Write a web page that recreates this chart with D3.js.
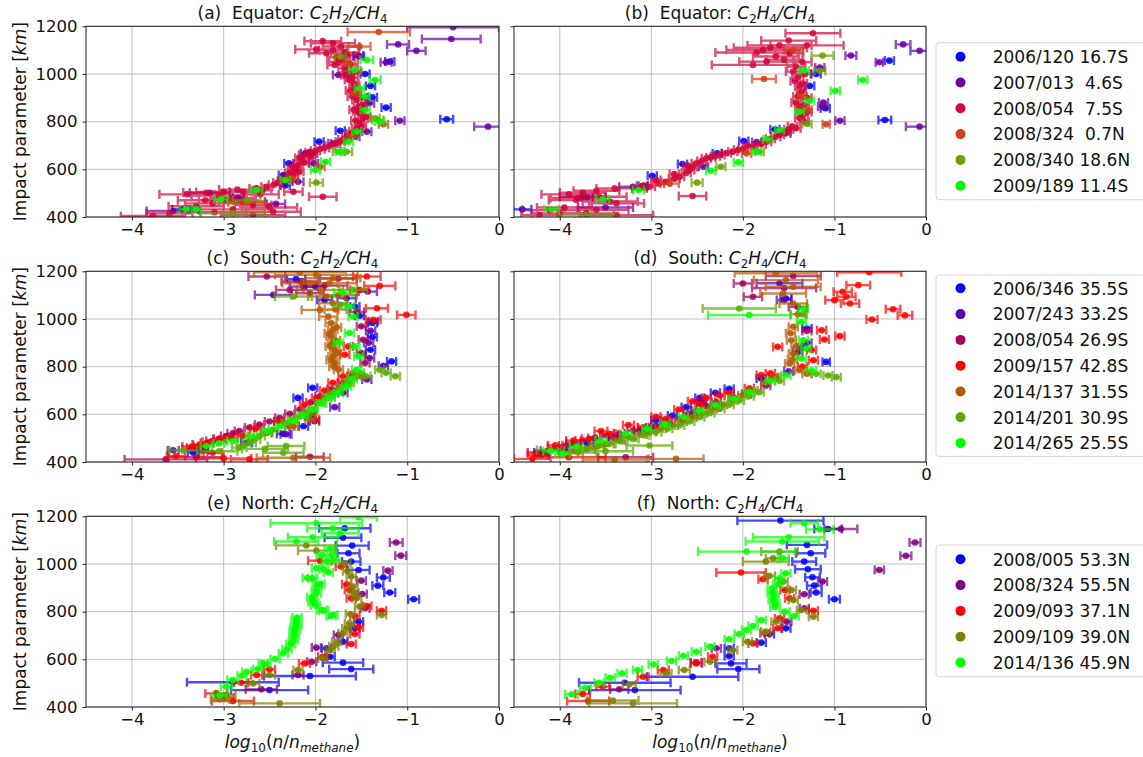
<!DOCTYPE html>
<html>
<head>
<meta charset="utf-8">
<script src="https://cdn.jsdelivr.net/npm/d3@7"></script>
<style>
  body { margin: 0; background: #fff; }
  svg { display: block; font-family: "DejaVu Sans", sans-serif; }
</style>
</head>
<body>
<svg id="chart" width="1143" height="757"></svg>
<script>
// Axis ticks
const xTicks = [-4, -3, -2, -1, 0];
const yTicks = [400, 600, 800, 1000, 1200];

// Legend labels and colours
const eqLabels = ['2006/120 16.7S', '2007/013  4.6S', '2008/054  7.5S', '2008/324  0.7N', '2008/340 18.6N', '2009/189 11.4S'];
const eqColors = ['#0000ff', '#6a00a6', '#d2063c', '#d24010', '#6e9e00', '#00f800'];
const soLabels = ['2006/346 35.5S', '2007/243 33.2S', '2008/054 26.9S', '2009/157 42.8S', '2014/137 31.5S', '2014/201 30.9S', '2014/265 25.5S'];
const soColors = ['#0000ff', '#5a00b4', '#a8005a', '#ff0000', '#b45a00', '#5aaa00', '#00ff00'];
const noLabels = ['2008/005 53.3N', '2008/324 55.5N', '2009/093 37.1N', '2009/109 39.0N', '2014/136 45.9N'];
const noColors = ['#0000ff', '#800080', '#ff0000', '#808000', '#00ff00'];

// Each point: [log10 ratio, impact parameter km, error]
// (a) Equator C2H2/CH4
const a_2006_120 = [[-1.19,1052,0.05],[-1.53,1077,0.05],[-1.46,1000,0.05],[-1.40,950,0.05],[-1.38,902,0.05],[-1.23,859,0.05],[-0.57,810,0.07],[-1.73,762,0.05],[-1.96,716,0.05],[-2.11,667,0.05],[-2.29,625,0.05],[-2.35,576,0.05],[-2.33,532,0.05],[-2.84,481,0.06],[-3.46,432,0.1],[-3.34,432,0.06]];
const a_2007_013 = [[-0.50,1196,0.5],[-0.52,1147,0.32],[-1.10,1124,0.12],[-0.90,1097,0.1],[-1.23,1049,0.06],[-1.53,1073,0.06],[-1.75,996,0.06],[-1.41,877,0.05],[-1.08,804,0.05],[-0.12,779,0.15],[-1.44,758,0.05],[-1.57,737,0.05],[-1.81,709,0.05],[-2.03,667,0.05],[-2.02,625,0.05],[-2.19,548,0.06],[-3.15,502,0.22],[-2.43,455,0.1],[-3.55,425,0.29]];
const a_2008_054 = [[-1.92,1138,0.2],[-1.81,1129,0.24],[-1.99,1103,0.23],[-1.81,1100,0.15],[-1.88,1087,0.19],[-1.77,1070,0.1],[-1.70,1059,0.08],[-1.79,1038,0.08],[-1.68,1024,0.07],[-1.64,1003,0.06],[-1.63,975,0.05],[-1.57,947,0.05],[-1.55,919,0.05],[-1.55,891,0.05],[-1.53,863,0.05],[-1.52,835,0.05],[-1.48,814,0.05],[-1.52,793,0.05],[-1.55,772,0.05],[-1.61,751,0.05],[-1.66,737,0.05],[-1.73,716,0.05],[-1.84,699,0.05],[-1.95,685,0.05],[-2.06,671,0.05],[-2.13,660,0.05],[-2.15,639,0.05],[-2.19,618,0.05],[-2.21,597,0.05],[-2.24,576,0.05],[-2.32,562,0.05],[-2.41,544,0.05],[-2.53,527,0.06],[-2.64,520,0.08],[-2.79,506,0.15],[-3.19,502,0.25],[-2.24,506,0.1],[-1.92,485,0.15],[-2.90,479,0.25],[-2.97,471,0.3],[-3.12,457,0.3],[-2.68,450,0.2],[-2.90,432,0.35],[-2.46,422,0.3],[-3.59,415,0.25],[-3.77,404,0.35],[-2.68,408,0.35],[-1.72,1115,0.2],[-1.65,1080,0.12],[-1.75,1050,0.1],[-1.60,985,0.06],[-1.58,960,0.05],[-1.62,930,0.05],[-1.50,900,0.05],[-1.58,850,0.05],[-1.45,820,0.05],[-1.50,780,0.05],[-1.70,725,0.05],[-1.90,690,0.05],[-2.05,650,0.05],[-2.25,610,0.05],[-2.18,590,0.05],[-2.30,555,0.05],[-2.45,535,0.06],[-2.85,515,0.2],[-3.05,490,0.3],[-2.80,465,0.25],[-3.30,445,0.3],[-1.68,1090,0.15],[-1.62,1040,0.08],[-1.56,1010,0.06],[-1.66,995,0.06],[-1.60,905,0.05],[-1.49,870,0.05],[-1.54,845,0.05],[-1.56,805,0.05],[-1.58,760,0.05],[-1.78,708,0.05],[-2.00,678,0.05],[-2.17,648,0.05],[-2.12,628,0.05],[-2.22,604,0.05],[-2.28,585,0.05],[-2.36,552,0.05],[-2.58,512,0.1],[-3.00,505,0.3],[-3.40,495,0.3],[-2.60,495,0.2],[-3.20,470,0.3],[-2.50,440,0.3],[-3.10,420,0.35]];
const a_2008_324 = [[-1.31,1176,0.34],[-1.52,1115,0.12],[-1.63,1045,0.06],[-1.57,919,0.05],[-1.26,789,0.05],[-1.60,740,0.05],[-1.95,611,0.05],[-2.25,560,0.06],[-2.75,460,0.2]];
const a_2008_340 = [[-1.73,1073,0.06],[-1.32,807,0.06],[-1.35,814,0.05],[-1.66,674,0.06],[-1.75,674,0.06],[-1.99,544,0.07],[-2.90,415,0.35],[-2.75,470,0.15]];
const a_2009_189 = [[-1.44,1059,0.07],[-1.57,1017,0.06],[-1.35,975,0.06],[-1.52,940,0.05],[-1.46,905,0.05],[-1.46,849,0.05],[-1.30,800,0.05],[-1.55,758,0.05],[-1.64,716,0.05],[-1.73,674,0.05],[-1.89,632,0.05],[-2.00,597,0.05],[-2.33,555,0.05],[-2.64,513,0.06],[-3.03,474,0.07],[-3.41,432,0.07],[-3.30,432,0.05]];

// (b) Equator C2H4/CH4
const b_2006_120 = [[-1.20,1000,0.05],[-1.27,950,0.05],[-1.10,856,0.05],[-0.45,807,0.07],[-0.40,1056,0.05],[-1.65,768,0.05],[-1.99,719,0.05],[-2.28,667,0.05],[-2.66,622,0.05],[-2.99,573,0.05],[-3.09,531,0.05],[-3.70,483,0.06],[-4.41,432,0.1]];
const b_2007_013 = [[-0.25,1124,0.08],[-0.07,1097,0.1],[-0.82,1077,0.06],[-0.51,1049,0.04],[-1.16,1027,0.05],[-1.13,863,0.05],[-1.12,880,0.05],[-0.94,804,0.05],[-0.07,779,0.15],[-1.53,751,0.05],[-1.85,714,0.05],[-2.43,611,0.05],[-3.20,527,0.15],[-3.75,485,0.25],[-3.50,440,0.3]];
const b_2008_054 = [[-1.235,1171,0.3],[-1.78,1101,0.4],[-1.85,1090,0.45],[-1.74,1052,0.3],[-1.89,1038,0.45],[-1.64,1073,0.25],[-1.49,1087,0.15],[-1.42,1031,0.1],[-1.40,989,0.06],[-1.38,947,0.05],[-1.40,905,0.05],[-1.38,863,0.05],[-1.34,828,0.05],[-1.33,800,0.05],[-1.42,772,0.05],[-1.53,758,0.05],[-1.64,737,0.05],[-1.74,716,0.05],[-1.89,695,0.05],[-2.11,674,0.05],[-2.25,660,0.05],[-2.40,646,0.05],[-2.51,625,0.05],[-2.58,597,0.05],[-2.69,569,0.05],[-2.84,548,0.05],[-3.02,527,0.06],[-3.13,520,0.08],[-2.55,488,0.15],[-3.75,502,0.25],[-3.57,485,0.3],[-3.82,471,0.3],[-3.38,457,0.3],[-4.11,429,0.3],[-3.71,415,0.3],[-3.38,408,0.4],[-4.22,408,0.2],[-1.60,1120,0.35],[-1.70,1110,0.4],[-1.55,1060,0.2],[-1.45,1010,0.08],[-1.43,970,0.05],[-1.36,925,0.05],[-1.42,880,0.05],[-1.37,845,0.05],[-1.46,780,0.05],[-1.60,745,0.05],[-1.80,705,0.05],[-2.00,685,0.05],[-2.18,668,0.05],[-2.35,650,0.05],[-2.45,635,0.05],[-2.55,610,0.05],[-2.62,585,0.05],[-2.75,560,0.06],[-2.92,540,0.06],[-3.60,510,0.25],[-3.90,495,0.3],[-3.45,465,0.3],[-3.95,440,0.3],[-1.30,1120,0.4],[-1.50,1140,0.3],[-1.35,1050,0.1],[-1.32,1000,0.06],[-1.35,960,0.05],[-1.30,900,0.05],[-1.33,870,0.05],[-1.30,840,0.05],[-1.38,815,0.05],[-1.50,768,0.05],[-1.70,728,0.05],[-1.95,700,0.05],[-2.05,682,0.05],[-2.30,655,0.05],[-2.60,615,0.05],[-2.75,580,0.05],[-2.95,555,0.05],[-3.10,530,0.06],[-3.40,520,0.2],[-3.80,480,0.3],[-3.60,430,0.35],[-4.00,415,0.3]];
const b_2008_324 = [[-1.77,979,0.13],[-1.09,789,0.04],[-1.96,667,0.05],[-1.35,905,0.05],[-1.30,850,0.05],[-2.80,540,0.1],[-1.45,1100,0.1]];
const b_2008_340 = [[-1.13,1077,0.12],[-1.16,1013,0.06],[-2.24,611,0.05],[-2.50,544,0.06],[-1.82,674,0.05],[-3.71,408,0.3],[-1.30,790,0.05]];
const b_2009_189 = [[-1.33,1014,0.05],[-0.69,975,0.05],[-0.99,929,0.05],[-1.27,887,0.05],[-1.38,842,0.05],[-1.60,765,0.05],[-1.73,726,0.05],[-1.85,674,0.05],[-2.05,629,0.05],[-2.35,594,0.05],[-3.14,513,0.06],[-3.53,474,0.07],[-4.09,432,0.08]];

// (c) South C2H2/CH4
const c_2006_346 = [[-2.21,1167,0.1],[-2.00,1136,0.1],[-1.90,1080,0.08],[-1.57,1052,0.05],[-1.52,1013,0.05],[-1.38,983,0.05],[-1.38,924,0.05],[-1.40,871,0.05],[-1.17,822,0.05],[-2.03,711,0.05],[-2.19,669,0.05],[-2.06,592,0.05],[-2.13,550,0.05],[-2.35,518,0.07],[-2.75,481,0.06],[-3.23,449,0.06],[-3.33,439,0.06]];
const c_2007_243 = [[-2.46,1101,0.2],[-2.13,1136,0.15],[-1.66,1087,0.1],[-1.43,1115,0.1],[-1.37,990,0.05],[-1.41,836,0.05],[-1.26,804,0.05],[-1.44,746,0.05],[-1.70,690,0.05],[-1.79,630,0.05],[-2.01,571,0.05],[-2.32,516,0.06],[-3.55,449,0.06],[-1.40,950,0.05],[-1.42,900,0.05]];
const c_2008_054 = [[-2.53,1178,0.2],[-2.17,1157,0.2],[-2.28,1122,0.15],[-2.06,1108,0.15],[-1.90,1140,0.25],[-1.75,1170,0.2],[-1.50,969,0.05],[-1.48,913,0.05],[-1.50,857,0.05],[-1.46,815,0.05],[-1.55,1030,0.08],[-1.70,732,0.05],[-1.95,676,0.05],[-2.17,620,0.05],[-2.39,585,0.05],[-2.61,557,0.05],[-2.83,530,0.05],[-2.97,509,0.06],[-3.12,488,0.07],[-3.25,470,0.08],[-3.63,411,0.45],[-2.06,422,0.15],[-3.35,455,0.1],[-1.60,760,0.05],[-1.82,705,0.05],[-2.05,650,0.05],[-2.28,602,0.05],[-2.50,570,0.05],[-2.72,545,0.05],[-2.90,520,0.06],[-3.05,498,0.06],[-3.18,480,0.07],[-3.30,460,0.1],[-3.30,420,0.3]];
const c_2009_157 = [[-1.30,1139,0.17],[-1.44,1178,0.15],[-1.52,1122,0.1],[-1.01,1017,0.1],[-1.33,1045,0.12],[-1.37,997,0.08],[-1.64,885,0.05],[-1.68,850,0.05],[-1.81,732,0.05],[-1.99,669,0.05],[-2.01,578,0.05],[-2.28,550,0.05],[-2.53,523,0.06],[-2.79,509,0.06],[-3.04,495,0.07],[-3.26,474,0.08],[-3.52,425,0.1],[-3.12,439,0.1],[-2.72,411,0.2],[-1.70,760,0.05],[-1.90,700,0.05],[-2.12,640,0.05],[-2.40,570,0.05],[-2.65,540,0.06],[-2.92,502,0.07],[-3.15,485,0.08],[-3.35,465,0.1],[-3.00,415,0.3]];
const c_2014_137 = [[-2.17,1196,0.5],[-1.99,1185,0.45],[-1.81,1171,0.3],[-2.06,1150,0.3],[-1.95,1122,0.25],[-1.88,1094,0.2],[-1.81,1066,0.15],[-1.95,1038,0.2],[-1.86,1010,0.1],[-1.83,983,0.06],[-1.81,955,0.05],[-1.83,927,0.05],[-1.81,899,0.05],[-1.79,871,0.05],[-1.81,843,0.05],[-1.79,815,0.05],[-1.75,787,0.05],[-1.59,774,0.05],[-1.52,760,0.05],[-1.66,732,0.05],[-1.84,676,0.05],[-2.04,606,0.05],[-2.24,550,0.05],[-2.06,578,0.05],[-2.24,418,0.4],[-1.85,1150,0.3],[-1.75,1100,0.2],[-1.78,1040,0.12],[-1.77,965,0.05],[-1.85,940,0.05],[-1.78,910,0.05],[-1.84,885,0.05],[-1.77,857,0.05],[-1.83,828,0.05],[-1.80,800,0.05]];
const c_2014_201 = [[-2.24,1094,0.2],[-1.59,1122,0.15],[-1.73,1059,0.08],[-1.30,787,0.05],[-1.23,774,0.05],[-1.13,760,0.05],[-1.52,774,0.05],[-1.63,732,0.05],[-1.81,690,0.05],[-1.95,648,0.05],[-2.03,620,0.05],[-2.17,592,0.05],[-2.32,564,0.05],[-2.46,536,0.05],[-2.61,509,0.06],[-2.72,481,0.07],[-2.83,460,0.08],[-2.32,467,0.2],[-2.35,439,0.22],[-3.44,449,0.15],[-1.45,760,0.05],[-1.72,712,0.05],[-1.88,668,0.05],[-2.10,606,0.05],[-2.25,578,0.05],[-2.54,522,0.06],[-2.66,495,0.06],[-2.78,470,0.08],[-2.55,455,0.25],[-3.05,445,0.2]];
const c_2014_265 = [[-1.63,1052,0.05],[-1.59,1010,0.05],[-1.63,941,0.05],[-1.57,885,0.05],[-1.53,843,0.05],[-1.55,787,0.05],[-1.66,718,0.05],[-1.84,669,0.05],[-2.03,620,0.05],[-2.24,571,0.05],[-2.53,530,0.05],[-2.90,488,0.06],[-3.19,467,0.06],[-1.70,1110,0.1],[-1.75,900,0.05],[-1.60,750,0.05],[-1.75,690,0.05],[-1.93,645,0.05],[-2.13,595,0.05],[-2.38,550,0.05],[-2.70,508,0.06],[-3.05,478,0.06]];

// (d) South C2H4/CH4
const d_2006_346 = [[-1.53,1086,0.06],[-1.09,820,0.04],[-2.15,707,0.05],[-2.47,669,0.05],[-2.62,630,0.05],[-2.77,595,0.05],[-3.13,532,0.06],[-3.95,451,0.06],[-1.30,960,0.05],[-1.35,880,0.05],[-4.20,440,0.08],[-1.80,750,0.05],[-2.30,690,0.05],[-2.45,650,0.05],[-2.95,575,0.05],[-3.40,505,0.06],[-3.70,478,0.07]];
const d_2007_243 = [[-1.55,1080,0.08],[-1.30,900,0.05],[-1.40,860,0.05],[-1.50,780,0.05],[-2.30,630,0.05],[-2.55,600,0.05],[-3.00,545,0.06],[-3.40,500,0.07],[-4.20,430,0.08],[-1.60,1150,0.25]];
const d_2008_054 = [[-2.00,1149,0.1],[-1.89,1093,0.1],[-1.55,1130,0.35],[-1.45,1180,0.3],[-1.40,1050,0.1],[-1.30,950,0.05],[-1.96,686,0.05],[-2.29,651,0.05],[-2.51,616,0.05],[-2.69,581,0.05],[-2.95,553,0.05],[-3.20,532,0.06],[-3.49,511,0.07],[-3.75,490,0.08],[-3.93,469,0.08],[-4.11,448,0.1],[-3.28,420,0.3],[-1.75,720,0.05],[-2.10,670,0.05],[-2.40,635,0.05],[-2.60,600,0.05],[-2.82,567,0.05],[-3.08,542,0.06],[-3.35,520,0.06],[-3.62,500,0.07],[-3.85,480,0.08],[-4.05,460,0.08],[-4.25,440,0.1]];
const d_2009_157 = [[-0.62,1196,0.35],[-0.74,1142,0.13],[-0.91,1114,0.1],[-0.87,1093,0.1],[-1.00,1079,0.1],[-0.83,1065,0.1],[-0.36,1041,0.08],[-0.23,1015,0.08],[-0.59,998,0.06],[-1.14,953,0.05],[-0.94,928,0.05],[-1.11,914,0.05],[-1.62,883,0.05],[-1.23,827,0.05],[-1.67,756,0.05],[-2.25,679,0.05],[-2.40,669,0.05],[-2.47,644,0.05],[-2.84,581,0.05],[-3.09,546,0.06],[-3.46,518,0.07],[-3.68,497,0.08],[-4.30,413,0.2],[-1.80,765,0.05],[-1.25,870,0.05],[-1.35,800,0.05],[-1.70,772,0.05],[-1.93,709,0.05],[-2.15,690,0.05],[-2.55,655,0.05],[-2.70,620,0.05],[-2.95,590,0.05],[-3.25,555,0.06],[-3.55,530,0.07],[-3.85,490,0.08],[-4.05,470,0.08],[-3.90,420,0.4],[-4.25,430,0.1]];
const d_2014_137 = [[-1.64,1192,0.45],[-1.53,1163,0.35],[-1.45,1135,0.3],[-1.56,1107,0.25],[-1.45,1065,0.15],[-1.45,967,0.05],[-1.47,911,0.05],[-1.45,855,0.05],[-1.49,813,0.05],[-1.38,785,0.05],[-1.64,756,0.05],[-1.89,700,0.05],[-2.11,658,0.05],[-2.33,623,0.05],[-2.55,588,0.05],[-2.77,553,0.06],[-3.02,525,0.07],[-3.24,504,0.07],[-3.49,476,0.08],[-3.71,455,0.1],[-2.73,413,0.3],[-1.40,1020,0.08],[-1.48,940,0.05],[-1.42,885,0.05],[-1.46,830,0.05],[-1.30,770,0.05],[-1.75,735,0.05],[-2.00,680,0.05],[-2.22,640,0.05],[-2.44,605,0.05],[-2.66,570,0.05],[-2.90,540,0.06],[-3.12,515,0.07],[-3.36,490,0.07],[-3.60,465,0.08],[-3.85,445,0.1],[-3.40,410,0.35]];
const d_2014_201 = [[-2.04,1044,0.4],[-0.98,756,0.05],[-1.07,763,0.05],[-1.82,693,0.05],[-2.04,658,0.05],[-2.25,623,0.05],[-2.47,588,0.05],[-2.69,553,0.05],[-2.95,525,0.06],[-3.20,497,0.06],[-3.46,476,0.07],[-3.71,455,0.08],[-4.10,450,0.15],[-3.02,469,0.25],[-1.35,1020,0.05],[-1.20,770,0.05],[-1.60,740,0.05],[-1.93,676,0.05],[-2.15,640,0.05],[-2.36,605,0.05],[-2.58,570,0.05],[-2.82,540,0.05],[-3.08,512,0.06],[-3.33,486,0.07],[-3.58,466,0.08],[-3.50,445,0.3],[-3.80,440,0.2]];
const d_2014_265 = [[-1.93,1016,0.45],[-1.34,1044,0.05],[-1.36,988,0.05],[-1.34,911,0.05],[-1.31,876,0.05],[-1.36,834,0.05],[-1.25,785,0.05],[-1.53,764,0.05],[-1.93,693,0.05],[-2.30,640,0.05],[-2.65,590,0.05],[-3.28,518,0.06],[-3.82,465,0.07],[-3.97,434,0.08],[-1.70,740,0.05],[-2.10,665,0.05],[-2.48,615,0.05],[-2.85,560,0.05],[-3.05,540,0.05],[-3.55,490,0.06],[-4.10,445,0.08]];

// (e) North C2H2/CH4
const e_2008_005 = [[-1.68,1150,0.28],[-1.70,1110,0.2],[-1.60,1077,0.18],[-1.64,1045,0.12],[-1.61,1010,0.1],[-1.53,975,0.12],[-1.26,943,0.07],[-1.32,909,0.06],[-1.19,880,0.06],[-0.93,852,0.06],[-1.53,758,0.05],[-1.57,730,0.05],[-1.70,674,0.05],[-1.88,646,0.05],[-1.84,611,0.05],[-1.70,586,0.22],[-1.61,559,0.24],[-2.06,530,0.5],[-2.90,504,0.5],[-2.50,471,0.42]];
const e_2008_324 = [[-1.12,1090,0.07],[-1.07,1035,0.06],[-1.21,972,0.05],[-1.50,930,0.05],[-1.49,874,0.05],[-1.46,814,0.05],[-1.75,702,0.05],[-1.99,649,0.05],[-2.04,590,0.05],[-2.19,534,0.06],[-2.59,474,0.17]];
const e_2009_093 = [[-1.95,1014,0.13],[-1.72,989,0.06],[-1.66,915,0.05],[-1.63,891,0.05],[-1.61,856,0.05],[-1.44,824,0.05],[-1.28,804,0.05],[-1.57,782,0.05],[-1.53,734,0.05],[-1.57,706,0.05],[-1.61,664,0.05],[-1.92,611,0.05],[-2.12,583,0.06],[-2.50,558,0.06],[-2.64,534,0.06],[-2.81,502,0.08],[-3.08,457,0.12],[-2.90,425,0.23],[-2.99,440,0.1]];
const e_2009_109 = [[-2.10,1078,0.33],[-1.99,1056,0.2],[-1.68,1003,0.06],[-1.61,947,0.05],[-1.59,905,0.05],[-1.55,856,0.05],[-1.52,821,0.05],[-1.28,786,0.05],[-1.63,751,0.05],[-1.70,709,0.05],[-1.77,674,0.05],[-1.84,639,0.05],[-1.92,604,0.05],[-2.19,555,0.05],[-2.50,534,0.06],[-2.68,499,0.07],[-2.97,450,0.1],[-2.39,415,0.44],[-3.04,432,0.1],[-1.65,970,0.05],[-1.58,880,0.05],[-1.62,790,0.05],[-1.66,730,0.05],[-1.80,655,0.05]];
const e_2014_136 = [[-1.53,1196,0.2],[-1.99,1171,0.5],[-1.81,1150,0.28],[-1.73,1129,0.2],[-2.03,1112,0.27],[-2.21,1094,0.24],[-1.84,1066,0.06],[-1.82,1038,0.05],[-1.88,1010,0.05],[-1.99,982,0.05],[-2.03,940,0.05],[-1.98,912,0.05],[-1.99,877,0.05],[-2.03,842,0.05],[-1.93,807,0.05],[-1.83,782,0.05],[-2.21,765,0.05],[-2.23,723,0.05],[-2.24,681,0.05],[-2.35,625,0.05],[-2.57,583,0.05],[-2.75,548,0.05],[-2.90,513,0.06],[-2.97,485,0.06],[-3.04,450,0.07],[-2.09,941,0.05],[-1.95,916,0.05],[-1.99,888,0.05],[-2.04,860,0.05],[-2.02,840,0.05],[-2.00,826,0.05],[-1.91,805,0.05],[-1.81,786,0.05],[-2.20,775,0.05],[-2.21,755,0.05],[-2.20,745,0.05],[-2.22,735,0.05],[-2.22,727,0.05],[-2.23,712,0.05],[-2.23,699,0.05],[-2.27,664,0.05],[-2.31,643,0.05],[-2.44,601,0.05],[-2.54,580,0.05],[-2.63,559,0.05],[-2.80,531,0.05],[-1.91,980,0.05],[-1.86,965,0.05],[-1.93,1037,0.05],[-1.80,1016,0.05]];

// (f) North C2H4/CH4
const f_2008_005 = [[-1.59,1182,0.47],[-1.07,1147,0.15],[-1.30,1080,0.22],[-1.26,1045,0.16],[-1.33,1010,0.13],[-1.29,978,0.14],[-1.24,944,0.08],[-1.22,909,0.08],[-1.20,880,0.06],[-1.00,852,0.06],[-1.53,730,0.05],[-1.71,706,0.05],[-1.80,670,0.05],[-2.15,646,0.05],[-2.15,614,0.05],[-2.13,583,0.17],[-2.05,559,0.23],[-2.55,527,0.5],[-3.29,502,0.5],[-3.18,471,0.5]];
const f_2008_324 = [[-0.93,1147,0.18],[-0.12,1090,0.06],[-0.22,1034,0.06],[-0.51,975,0.05],[-1.13,926,0.05],[-1.33,873,0.05],[-1.33,814,0.05],[-1.52,758,0.05],[-2.29,646,0.05],[-2.51,587,0.06],[-3.35,474,0.1]];
const f_2009_093 = [[-2.02,964,0.27],[-1.78,936,0.05],[-1.54,891,0.05],[-1.49,856,0.05],[-1.23,804,0.05],[-1.60,772,0.05],[-1.62,730,0.05],[-1.76,709,0.05],[-1.89,667,0.05],[-2.33,611,0.05],[-2.51,583,0.06],[-2.87,555,0.06],[-3.09,527,0.06],[-3.53,485,0.07],[-3.75,455,0.08],[-3.69,425,0.23]];
const f_2009_109 = [[-1.60,1052,0.2],[-1.67,1024,0.08],[-1.75,1010,0.25],[-1.71,950,0.06],[-1.56,926,0.05],[-1.47,891,0.05],[-1.45,849,0.05],[-1.36,807,0.05],[-1.23,779,0.05],[-1.64,758,0.05],[-1.75,716,0.05],[-1.95,674,0.05],[-2.11,639,0.05],[-2.36,590,0.06],[-2.64,555,0.06],[-2.84,541,0.06],[-3.24,495,0.07],[-3.42,427,0.28],[-3.20,415,0.48]];
const f_2014_136 = [[-1.33,1171,0.15],[-1.16,1145,0.15],[-1.50,1112,0.39],[-1.57,1094,0.4],[-1.96,1052,0.53],[-1.56,1024,0.06],[-1.53,961,0.05],[-1.68,898,0.05],[-1.66,866,0.05],[-1.65,835,0.05],[-1.54,800,0.05],[-1.44,782,0.05],[-1.80,765,0.05],[-1.89,740,0.05],[-1.96,723,0.05],[-2.04,706,0.05],[-2.15,684,0.05],[-2.36,653,0.05],[-2.51,632,0.05],[-2.65,615,0.05],[-2.78,593,0.05],[-2.98,579,0.05],[-3.15,555,0.05],[-3.32,541,0.05],[-3.45,523,0.05],[-3.57,502,0.05],[-3.72,481,0.06],[-3.87,453,0.07],[-1.68,880,0.05],[-1.67,850,0.05],[-1.65,820,0.05],[-1.62,915,0.05],[-1.60,940,0.05]];

// Panel layout, built from the arrays above
const cols = [{ left: 86, right: 499 }, { left: 514, right: 926 }];
const rows = [{ top: 26.3, bottom: 217 }, { top: 271.3, bottom: 462 }, { top: 516.3, bottom: 707 }];

const panels = [
    { col: 0, row: 0, title: '(a)  Equator: ', formula: 'C2H2/CH4', colors: eqColors,
      series: [a_2006_120, a_2007_013, a_2008_054, a_2008_324, a_2008_340, a_2009_189] },
    { col: 1, row: 0, title: '(b)  Equator: ', formula: 'C2H4/CH4', colors: eqColors,
      series: [b_2006_120, b_2007_013, b_2008_054, b_2008_324, b_2008_340, b_2009_189] },
    { col: 0, row: 1, title: '(c)  South: ', formula: 'C2H2/CH4', colors: soColors,
      series: [c_2006_346, c_2007_243, c_2008_054, c_2009_157, c_2014_137, c_2014_201, c_2014_265] },
    { col: 1, row: 1, title: '(d)  South: ', formula: 'C2H4/CH4', colors: soColors,
      series: [d_2006_346, d_2007_243, d_2008_054, d_2009_157, d_2014_137, d_2014_201, d_2014_265] },
    { col: 0, row: 2, title: '(e)  North: ', formula: 'C2H2/CH4', colors: noColors,
      series: [e_2008_005, e_2008_324, e_2009_093, e_2009_109, e_2014_136] },
    { col: 1, row: 2, title: '(f)  North: ', formula: 'C2H4/CH4', colors: noColors,
      series: [f_2008_005, f_2008_324, f_2009_093, f_2009_109, f_2014_136] },
];

const legends = [
    { labels: eqLabels, colors: eqColors, top: 42.7, first: 56.7 },
    { labels: soLabels, colors: soColors, top: 275, first: 288.3 },
    { labels: noLabels, colors: noColors, top: 545, first: 559.3 },
];

const svg = d3.select('#chart');
const fmtMinus = (d) => (d < 0 ? '\u2212' + Math.abs(d) : String(d));

// Write chemical formula: letters italic, digits as subscripts
function appendFormula(text, formula, size) {
    let inSub = false;
    for (const ch of formula) {
        const isSub = /\d/.test(ch);
        const ts = text.append('tspan').text(ch)
            .attr('font-size', isSub ? size * 0.7 : size)
            .attr('font-style', isSub ? 'normal' : 'italic');
        if (isSub && !inSub) ts.attr('dy', size * 0.22);
        if (!isSub && inSub) ts.attr('dy', -size * 0.22);
        inSub = isSub;
    }
}

panels.forEach((p, i) => {
    const c = cols[p.col];
    const r = rows[p.row];
    const x = d3.scaleLinear().domain([-4.5, 0]).range([c.left, c.right]);
    const y = d3.scaleLinear().domain([400, 1200]).range([r.bottom, r.top]);
    const g = svg.append('g');

    // Gridlines
    g.append('g').selectAll('line').data(xTicks).join('line')
        .attr('x1', (d) => x(d)).attr('x2', (d) => x(d))
        .attr('y1', r.top).attr('y2', r.bottom)
        .attr('stroke', '#b0b0b0').attr('stroke-width', 0.8);
    g.append('g').selectAll('line').data(yTicks).join('line')
        .attr('x1', c.left).attr('x2', c.right)
        .attr('y1', (d) => y(d)).attr('y2', (d) => y(d))
        .attr('stroke', '#b0b0b0').attr('stroke-width', 0.8);

    // Clip the marks to the axes box
    const clipId = 'clip-' + i;
    svg.append('clipPath').attr('id', clipId).append('rect')
        .attr('x', c.left).attr('y', r.top)
        .attr('width', c.right - c.left).attr('height', r.bottom - r.top);
    const plot = g.append('g').attr('clip-path', `url(#${clipId})`);

    // Error bars and markers, series drawn in legend order
    p.series.forEach((data, k) => {
        const color = p.colors[k];
        const s = plot.append('g');
        const bars = s.append('g').attr('stroke', color).attr('stroke-width', 2.4).attr('opacity', 0.7);
        bars.selectAll('line.bar').data(data).join('line').attr('class', 'bar')
            .attr('x1', (d) => x(d[0] - d[2])).attr('x2', (d) => x(d[0] + d[2]))
            .attr('y1', (d) => y(d[1])).attr('y2', (d) => y(d[1]));
        bars.selectAll('line.capl').data(data).join('line').attr('class', 'capl')
            .attr('x1', (d) => x(d[0] - d[2])).attr('x2', (d) => x(d[0] - d[2]))
            .attr('y1', (d) => y(d[1]) - 4.5).attr('y2', (d) => y(d[1]) + 4.5);
        bars.selectAll('line.capr').data(data).join('line').attr('class', 'capr')
            .attr('x1', (d) => x(d[0] + d[2])).attr('x2', (d) => x(d[0] + d[2]))
            .attr('y1', (d) => y(d[1]) - 4.5).attr('y2', (d) => y(d[1]) + 4.5);
        s.append('g').selectAll('circle').data(data).join('circle')
            .attr('cx', (d) => x(d[0])).attr('cy', (d) => y(d[1]))
            .attr('r', 3.3).attr('fill', color).attr('opacity', 0.85);
    });

    // Axes
    const xAxis = g.append('g').attr('transform', `translate(0,${r.bottom})`)
        .call(d3.axisBottom(x).tickValues(xTicks).tickFormat(fmtMinus).tickSize(3.5).tickSizeOuter(0).tickPadding(2.5));
    const yAxis = g.append('g').attr('transform', `translate(${c.left},0)`)
        .call(d3.axisLeft(y).tickValues(yTicks).tickFormat(p.col === 0 ? d3.format('d') : '').tickSize(3.5).tickSizeOuter(0).tickPadding(5));
    [xAxis, yAxis].forEach((a) => {
        a.select('.domain').remove();
        a.attr('font-family', null).attr('font-size', 16.5);
        a.selectAll('line').attr('stroke', '#222');
        a.selectAll('text').attr('fill', '#111');
    });

    // Frame
    g.append('rect')
        .attr('x', c.left).attr('y', r.top)
        .attr('width', c.right - c.left).attr('height', r.bottom - r.top)
        .attr('fill', 'none').attr('stroke', '#222').attr('stroke-width', 1);

    // Title
    const t = g.append('text')
        .attr('x', (c.left + c.right) / 2).attr('y', r.top - 7)
        .attr('text-anchor', 'middle').attr('font-size', 17).attr('fill', '#111')
        .style('white-space', 'pre');
    t.append('tspan').text(p.title);
    appendFormula(t, p.formula, 17);

    // Y label on the left panels
    if (p.col === 0) {
        const yl = svg.append('text')
            .attr('transform', `translate(26,${(r.top + r.bottom) / 2}) rotate(-90)`)
            .attr('text-anchor', 'middle').attr('font-size', 17).attr('fill', '#111');
        yl.append('tspan').text('Impact parameter [');
        yl.append('tspan').attr('font-style', 'italic').text('km');
        yl.append('tspan').text(']');
    }

    // X label on the bottom panels
    if (p.row === 2) {
        const xl = svg.append('text')
            .attr('x', (c.left + c.right) / 2).attr('y', 748)
            .attr('text-anchor', 'middle').attr('font-size', 17).attr('fill', '#111');
        xl.append('tspan').attr('font-style', 'italic').text('log');
        xl.append('tspan').attr('font-size', 12).attr('dy', 4).text('10');
        xl.append('tspan').attr('dy', -4).text('(');
        xl.append('tspan').attr('font-style', 'italic').text('n');
        xl.append('tspan').text('/');
        xl.append('tspan').attr('font-style', 'italic').text('n');
        xl.append('tspan').attr('font-style', 'italic').attr('font-size', 12).attr('dy', 4).text('methane');
        xl.append('tspan').attr('dy', -4).text(')');
    }
});

// Legends
legends.forEach((lg) => {
    const step = 25.8;
    const n = lg.labels.length;
    const g = svg.append('g');
    g.append('rect')
        .attr('x', 936).attr('y', lg.top)
        .attr('width', 214).attr('height', (lg.first - lg.top) * 2 + (n - 1) * step)
        .attr('rx', 3).attr('fill', '#fff').attr('stroke', '#d6d6d6').attr('stroke-width', 1);
    const item = g.selectAll('g.item').data(lg.labels).join('g').attr('class', 'item')
        .attr('transform', (d, i) => `translate(0,${lg.first + i * step})`);
    item.append('circle').attr('cx', 960.5).attr('cy', 0).attr('r', 5)
        .attr('fill', (d, i) => lg.colors[i]);
    item.append('text').attr('x', 992.7).attr('y', 6.2)
        .attr('font-size', 17).attr('fill', '#111').style('white-space', 'pre')
        .text((d) => d);
});
</script>
</body>
</html>
